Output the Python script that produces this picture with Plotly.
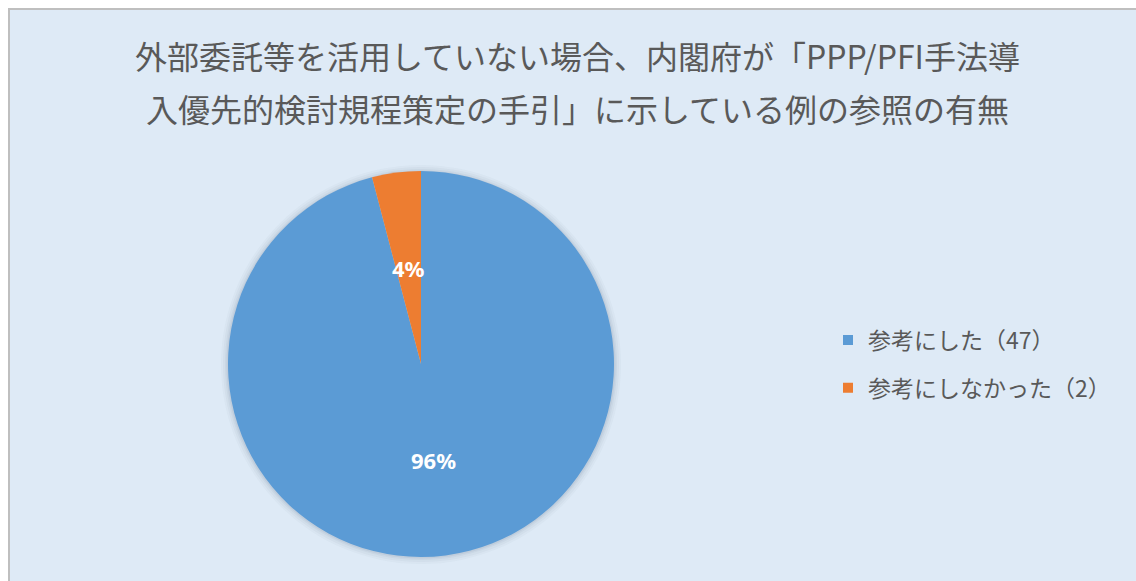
import math
import plotly.graph_objects as go

# ---- data ----
categories = ["参考にした（47）", "参考にしなかった（2）"]
values = [47, 2]
colors = ["#5B9BD5", "#ED7D31"]
title_lines = ["外部委託等を活用していない場合、内閣府が「PPP/PFI手法導",
               "入優先的検討規程策定の手引」に示している例の参照の有無"]

W, H = 1136, 581
BG = "#DEEAF6"

# pie geometry (pixels)
cx, cy, R = 421, 364, 193

def px(x):
    return x / W

def py(y):
    return (H - y) / H

fig = go.Figure()

fig.add_trace(go.Pie(
    labels=categories,
    values=values,
    marker=dict(colors=colors, line=dict(width=0)),
    sort=False,
    direction="clockwise",
    rotation=0,
    textinfo="none",
    showlegend=False,
    hoverinfo="label+percent",
    domain=dict(x=[px(cx - R), px(cx + R)], y=[py(cy + R), py(cy - R)]),
))

# legend entries (dummy traces so spacing can be controlled)
for i, (name, col) in enumerate(zip(categories, colors)):
    fig.add_trace(go.Scatter(
        x=[None], y=[None], mode="markers", name=name,
        marker=dict(symbol="square", size=10, color=col),
        legendgroup=f"g{i}", showlegend=True,
    ))

shapes = [
    # chart area with border
    dict(type="rect", xref="paper", yref="paper",
         x0=px(9), x1=px(W + 20), y0=py(H + 20), y1=py(9),
         fillcolor=BG, line=dict(color="#BFBFBF", width=2), layer="below"),
]
# soft shadow around the pie
for k, op in [(7, 0.03), (5, 0.04), (3, 0.05), (1.5, 0.07)]:
    shapes.append(dict(type="circle", xref="paper", yref="paper",
                       x0=px(cx - R - k), x1=px(cx + R + k),
                       y0=py(cy + R + k), y1=py(cy - R - k + 1),
                       fillcolor=f"rgba(60,80,110,{op})", line=dict(width=0),
                       layer="below"))

annotations = []
for line, yy in zip(title_lines, [55, 108]):
    annotations.append(dict(
        text=line, xref="paper", yref="paper", x=px(577), y=py(yy),
        xanchor="center", yanchor="middle", showarrow=False,
        font=dict(family="Noto Sans CJK JP", size=32, color="#595959"),
    ))

# percentage labels placed at half radius on each slice's bisector
total = sum(values)
cum = 0
for v in values:
    mid = (cum + v / 2) / total
    cum += v
    th = 2 * math.pi * mid
    lx = cx + 0.5 * R * math.sin(th)
    ly = cy - 0.5 * R * math.cos(th)
    annotations.append(dict(
        text=f"{round(100 * v / total)}%", xref="paper", yref="paper",
        x=px(lx), y=py(ly), xanchor="center", yanchor="middle",
        showarrow=False,
        font=dict(family="Noto Sans", size=22, color="white", weight="bold"),
    ))

fig.update_layout(
    width=W, height=H,
    margin=dict(l=0, r=0, t=0, b=0),
    paper_bgcolor="white",
    plot_bgcolor="rgba(0,0,0,0)",
    shapes=shapes,
    annotations=annotations,
    legend=dict(
        x=px(828), y=py(364), xanchor="left", yanchor="middle",
        bgcolor="rgba(0,0,0,0)", tracegroupgap=15,
        font=dict(family="Noto Sans CJK JP", size=23, color="#595959"),
        itemclick=False, itemdoubleclick=False,
    ),
    xaxis=dict(visible=False), yaxis=dict(visible=False),
)

fig.write_html("out.html")
